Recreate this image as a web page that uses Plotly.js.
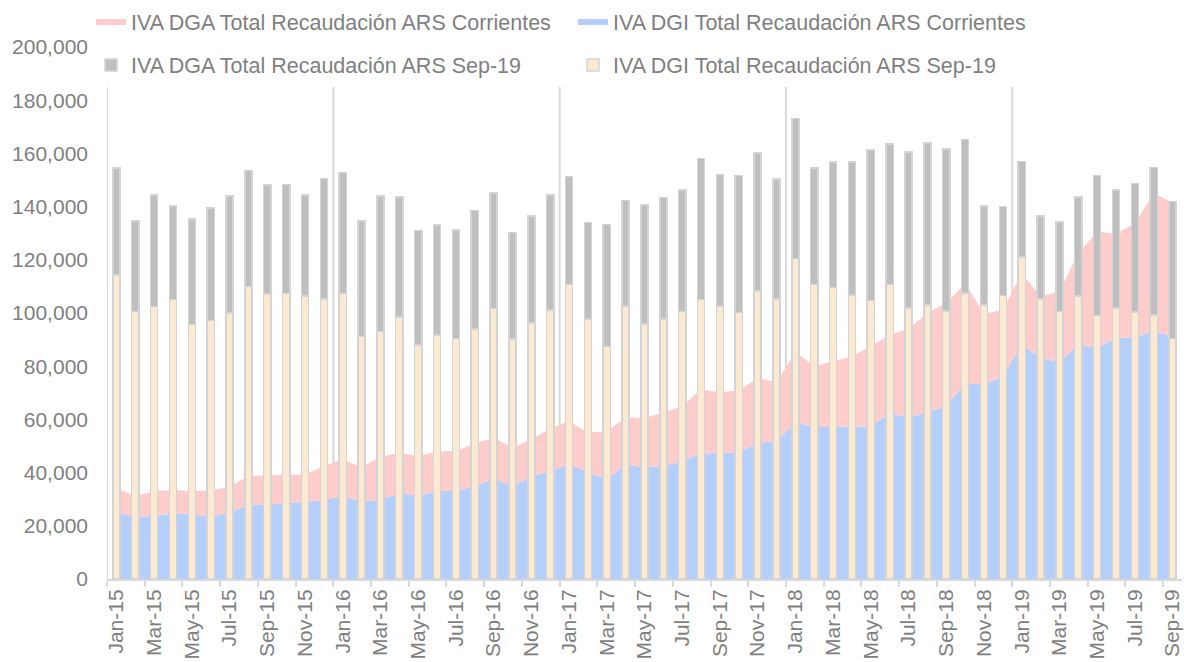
<!DOCTYPE html>
<html><head><meta charset="utf-8">
<script src="https://cdn.plot.ly/plotly-3.0.1.min.js"></script>
<style>html,body{margin:0;padding:0;background:#fff}#chart{width:1184px;height:662px}</style>
</head><body><div id="chart"></div>
<script>
const months = ["Jan-15","Feb-15","Mar-15","Apr-15","May-15","Jun-15","Jul-15","Aug-15","Sep-15","Oct-15","Nov-15","Dec-15",
"Jan-16","Feb-16","Mar-16","Apr-16","May-16","Jun-16","Jul-16","Aug-16","Sep-16","Oct-16","Nov-16","Dec-16",
"Jan-17","Feb-17","Mar-17","Apr-17","May-17","Jun-17","Jul-17","Aug-17","Sep-17","Oct-17","Nov-17","Dec-17",
"Jan-18","Feb-18","Mar-18","Apr-18","May-18","Jun-18","Jul-18","Aug-18","Sep-18","Oct-18","Nov-18","Dec-18",
"Jan-19","Feb-19","Mar-19","Apr-19","May-19","Jun-19","Jul-19","Aug-19","Sep-19"];

// IVA DGI Total Recaudación ARS Corrientes (area, bottom)
const dgiCorrientes = [25000,23400,23700,24600,24300,23400,25000,28000,28100,28400,
29000,29700,31200,29000,29800,32300,31200,33100,33100,35000,
37500,35000,38500,40600,43100,40200,37500,43100,41900,42500,
44400,47200,47500,47500,51200,51900,58800,57100,57100,57200,
57200,62500,60600,62700,65000,73500,73100,76200,88100,83100,
81500,88100,86900,90600,90900,93100,91200];

// IVA DGA Total Recaudación ARS Corrientes (area, stacked on DGI)
const dgaCorrientes = [9100,7800,9400,8900,8800,9900,9800,10700,10900,10800,
10300,12800,13800,13000,16200,15200,15000,14800,15000,15900,
15600,14400,14000,16000,16300,14800,18100,17500,18700,20000,
20600,24000,22700,23400,24400,22100,26500,22900,24800,26500,
30300,29400,33400,37300,38700,37700,26600,25000,26900,23100,
26600,34400,43700,39100,42800,51900,50300];

// IVA DGI Total Recaudación ARS Sep-19 (bars, bottom)
const dgiSep19 = [114200,100500,102500,105000,95700,97100,100000,110000,107100,107300,
106300,105200,107300,91200,93100,98500,87900,91700,90400,93900,
101600,90200,96200,101100,110700,97700,87400,102600,95800,97700,
100600,105000,102700,100200,108200,105300,120500,110800,109500,106800,
104700,110800,101800,103000,100700,107500,103100,106600,121000,105200,
100600,106300,99100,101800,100300,99200,90400];

// IVA DGA Total Recaudación ARS Sep-19 (bars, stacked on DGI)
const dgaSep19 = [40400,34100,41800,35200,39600,42400,44000,43500,41000,41000,
38000,45400,45500,43300,50800,45200,43100,41400,40800,44600,
43500,40000,40300,43200,40600,36400,45900,39700,44800,45800,
45700,53100,49400,51500,52000,45000,52600,43700,47200,49900,
56600,52700,58700,61000,60900,57700,37200,33500,36000,31300,
33600,37300,52600,44400,48400,55500,51500];

const yearBoundaries = [11.5, 23.5, 35.5, 47.5];

const FONT = 'Liberation Sans, Arial, sans-serif';
const GREY = '#7f7f7f';
const LINEC = '#d9d9d9';

const traces = [
  {type:'scatter', x:months, y:dgiCorrientes, name:'IVA DGI Total Recaudación ARS Corrientes',
   stackgroup:'a', mode:'none', fillcolor:'#b4cffb', legend:'legend', legendrank:2, hoverinfo:'skip'},
  {type:'scatter', x:months, y:dgaCorrientes, name:'IVA DGA Total Recaudación ARS Corrientes',
   stackgroup:'a', mode:'none', fillcolor:'#ffcccc', legend:'legend', legendrank:1, hoverinfo:'skip'},
  {type:'bar', x:months, y:dgiSep19, name:'IVA DGI Total Recaudación ARS Sep-19', xaxis:'x2', yaxis:'y2',
   width:0.38, marker:{color:'#fbe9d1', line:{color:'#d4d4d4', width:1.5}}, legend:'legend2', legendrank:2, hoverinfo:'skip'},
  {type:'bar', x:months, y:dgaSep19, name:'IVA DGA Total Recaudación ARS Sep-19', xaxis:'x2', yaxis:'y2',
   width:0.38, marker:{color:'#bfbfbf', line:{color:'#d4d4d4', width:1.5}}, legend:'legend2', legendrank:1, hoverinfo:'skip'}
];

const shapes = [{type:'line', xref:'x', yref:'y', x0:-0.5, x1:-0.5, y0:0, y1:185000, line:{color:LINEC, width:2}, layer:'below'}];
yearBoundaries.forEach(b => shapes.push({type:'line', xref:'x', yref:'y', x0:b, x1:b, y0:0, y1:185000, line:{color:LINEC, width:2}, layer:'below'}));

const legendBase = {orientation:'h', xref:'container', yref:'container', xanchor:'left', yanchor:'middle',
  entrywidth:437, entrywidthmode:'pixels', itemwidth:30, traceorder:'normal', bgcolor:'rgba(0,0,0,0)',
  font:{family:FONT, size:21.5, color:GREY}};

const layout = {
  width:1184, height:662,
  margin:{l:107, r:2, t:47, b:83, autoexpand:false},
  paper_bgcolor:'#ffffff', plot_bgcolor:'#ffffff',
  font:{family:FONT, size:21, color:GREY},
  barmode:'stack',
  showlegend:true,
  legend:Object.assign({}, legendBase, {x:91/1184, y:1-22/662}),
  legend2:Object.assign({}, legendBase, {x:91/1184, y:1-65/662}),
  xaxis:{type:'category', categoryorder:'array', categoryarray:months, range:[-0.5,56.5],
    dtick:2, tickson:'boundaries', ticks:'outside', ticklen:6, tickwidth:1.5, tickcolor:LINEC,
    tickangle:-90, showline:true, linecolor:LINEC, linewidth:2, showgrid:false, zeroline:false,
    tickfont:{family:FONT, size:21, color:GREY}, fixedrange:true, automargin:false},
  yaxis:{range:[0,200000], dtick:20000, tickformat:',d', showgrid:false, zeroline:false, showline:false,
    ticks:'', ticklabelstandoff:18, tickfont:{family:FONT, size:21, color:GREY}, fixedrange:true, automargin:false},
  xaxis2:{type:'category', categoryorder:'array', categoryarray:months, range:[-0.5,56.5], overlaying:'x',
    visible:false, fixedrange:true},
  yaxis2:{range:[0,200000], overlaying:'y', visible:false, fixedrange:true},
  shapes:shapes
};

Plotly.newPlot('chart', traces, layout, {displayModeBar:false, responsive:false});
</script>
</body></html>
